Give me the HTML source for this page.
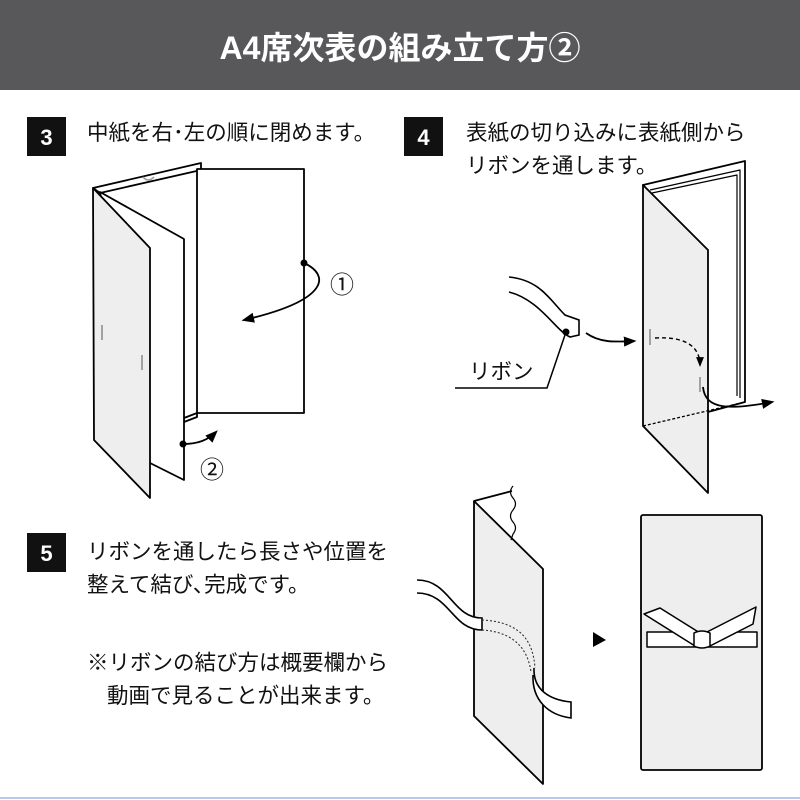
<!DOCTYPE html>
<html><head><meta charset="utf-8"><style>
html,body{margin:0;padding:0;background:#fff}
svg{display:block}
text{font-family:"Liberation Sans","Noto Sans CJK JP",sans-serif}
</style></head><body>
<svg width="800" height="800" viewBox="0 0 800 800" xmlns="http://www.w3.org/2000/svg">
<defs>
<marker id="ah" viewBox="0 0 10 10" refX="8" refY="5" markerWidth="7" markerHeight="7" orient="auto"><path d="M0,1 L10,5 L0,9 z" fill="#000"/></marker>
</defs>
<rect x="0" y="0" width="800" height="90" fill="#58575a"/>
<text x="400" y="59" text-anchor="middle" fill="#fff" font-size="32" font-weight="bold">A4席次表の組み立て方②</text>

<rect x="27" y="117" width="39" height="39" fill="#111"/>
<text x="46.5" y="145" text-anchor="middle" fill="#fff" font-size="22" font-weight="bold">3</text>
<rect x="404" y="117" width="39" height="39" fill="#111"/>
<text x="423.5" y="145" text-anchor="middle" fill="#fff" font-size="22" font-weight="bold">4</text>
<rect x="27" y="533" width="39" height="39" fill="#111"/>
<text x="46.5" y="561" text-anchor="middle" fill="#fff" font-size="22" font-weight="bold">5</text>

<g font-size="21.5" fill="#111">
<text x="87" y="140">中紙を右･左の順に閉めます。</text>
<text x="466" y="140">表紙の切り込みに表紙側から</text>
<text x="466" y="173">リボンを通します。</text>
<text x="87" y="559">リボンを通したら長さや位置を</text>
<text x="87" y="592">整えて結び､完成です。</text>
<text x="87" y="670">※リボンの結び方は概要欄から</text>
<text x="107" y="703">動画で見ることが出来ます。</text>
</g>

<g stroke="#000" stroke-width="1.8" fill="#fff" stroke-linejoin="round">
<polygon points="93,188 201,163 201,170 100,193"/>
<rect x="197" y="169" width="107" height="244"/>
<polygon points="184,418 197,413 197,417 184,422"/>
<polygon points="100,192 184,239 184,480 150,463"/>
<polygon points="93,188 150,248 150,498 94,440" fill="#eee"/>
</g>
<path d="M143,177 q5,6 11,0" stroke="#999" fill="none" stroke-width="1.5"/>
<line x1="102" y1="325" x2="102" y2="340" stroke="#888" stroke-width="1.5"/>
<line x1="142" y1="355" x2="142" y2="370" stroke="#888" stroke-width="1.5"/>
<circle cx="304" cy="263" r="3.5" fill="#000"/>
<path d="M304,263 C330,275 330,300 244,320" stroke="#000" stroke-width="1.8" fill="none" marker-end="url(#ah)"/>
<text x="342" y="293" text-anchor="middle" font-size="24" fill="#111">①</text>
<circle cx="183" cy="444" r="3.5" fill="#000"/>
<path d="M183,444 C198,444 208,440 216,432" stroke="#000" stroke-width="1.8" fill="none" marker-end="url(#ah)"/>
<text x="212" y="478" text-anchor="middle" font-size="24" fill="#111">②</text>

<g stroke="#000" stroke-width="1.8" fill="#fff" stroke-linejoin="round">
<polygon points="643,185 745,161 745,402 708,412"/>
<polyline points="650,190 740,170 740,398" fill="none" stroke-width="1.2"/>
<polyline points="652,193 737,175 737,396" fill="none" stroke-width="1.2"/>
<polygon points="643,185 708,250 708,493 643,426" fill="#eee"/>
</g>
<line x1="643" y1="426" x2="745" y2="402" stroke="#000" stroke-width="1.3" stroke-dasharray="3,2"/>
<path d="M509,277 C540,280 550,300 565,315 L579,320 L579,335 L570,337 C555,330 540,300 509,292" stroke="#000" stroke-width="1.6" fill="#fff"/>
<circle cx="566" cy="332" r="3.5" fill="#000"/>
<polyline points="566,332 547,388 455,388" stroke="#000" stroke-width="1.5" fill="none"/>
<text x="469" y="379" font-size="21.5" fill="#111">リボン</text>
<path d="M586,333 C600,343 615,342 634,341" stroke="#000" stroke-width="1.8" fill="none" marker-end="url(#ah)"/>
<line x1="650" y1="329" x2="650" y2="345" stroke="#888" stroke-width="1.5"/>
<path d="M655,338 C690,336 700,350 700,365" stroke="#000" stroke-width="1.4" fill="none" stroke-dasharray="4,3" marker-end="url(#ah)"/>
<line x1="700" y1="377" x2="700" y2="392" stroke="#888" stroke-width="1.5"/>
<path d="M703,387 C705,410 730,410 772,402" stroke="#000" stroke-width="1.8" fill="none" marker-end="url(#ah)"/>

<polygon points="474,501 543,569 543,784 474,716" fill="#eee" stroke="#000" stroke-width="1.8" stroke-linejoin="round"/>
<polyline points="474,501 512,491" stroke="#000" stroke-width="1.8" fill="none"/>
<path d="M513,486 q-5,6 0,12 q5,6 0,12 q-5,6 0,12 q5,6 0,12 l-2,6" stroke="#000" stroke-width="1.2" fill="none"/>
<path d="M417,580 C450,580 452,618 482,618 L482,630 C452,630 450,593 417,593" stroke="#000" stroke-width="1.6" fill="#fff"/>
<path d="M482,620 C520,622 533,640 535,668 M482,630 C515,632 528,650 531,672" stroke="#333" stroke-width="1.1" fill="none" stroke-dasharray="2,2"/>
<path d="M534,668 C533,690 550,700 571,702 L571,718 C548,715 532,700 533,675" stroke="#000" stroke-width="1.6" fill="#fff"/>

<polygon points="593,632 606,640 593,647" fill="#000"/>

<rect x="641" y="515" width="121" height="255" rx="2" fill="#eee" stroke="#000" stroke-width="1.8"/>
<g stroke="#000" stroke-width="1.5" fill="#fff" stroke-linejoin="round">
<rect x="647" y="632" width="110" height="15"/>
<polygon points="644,614 660,608 700,633 695,646"/>
<polygon points="756,607 753,624 710,646 705,633"/>
<path d="M694,633 q8,-4 16,0 v13 q-8,4 -16,0 z"/>
</g>

<line x1="0" y1="798" x2="800" y2="798" stroke="#b9c8ee" stroke-width="2"/>
</svg>
</body></html>
